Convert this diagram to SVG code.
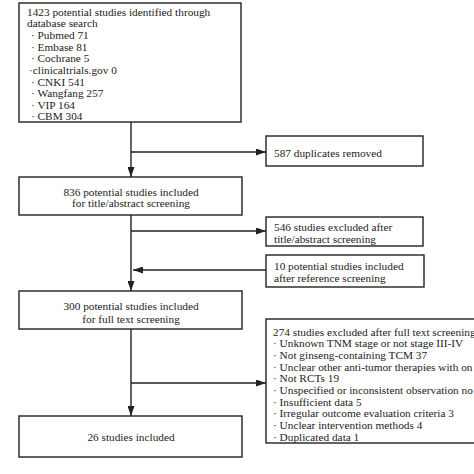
<svg xmlns="http://www.w3.org/2000/svg" width="474" height="474" viewBox="0 0 474 474">
<style>
.box{fill:#fff;stroke:#222;stroke-width:1.4}
.t{font-family:"Liberation Serif","Times New Roman",serif;font-size:11.3px;fill:#222}
.c{text-anchor:middle}
.ln{stroke:#222;stroke-width:1.4;fill:none}
</style>
<defs>
<marker id="ah" markerWidth="10" markerHeight="7" refX="10" refY="3.5" orient="auto" markerUnits="userSpaceOnUse">
<path d="M0,0 L10,3.5 L0,7 Z" fill="#222"/>
</marker>
</defs>
<rect width="474" height="474" fill="#fff"/>
<g id="connectors">
<line class="ln" x1="131" y1="122" x2="131" y2="177" marker-end="url(#ah)"/>
<line class="ln" x1="131" y1="152" x2="266" y2="152" marker-end="url(#ah)"/>
<line class="ln" x1="131" y1="215" x2="131" y2="291" marker-end="url(#ah)"/>
<line class="ln" x1="131" y1="231" x2="266" y2="231" marker-end="url(#ah)"/>
<line class="ln" x1="266" y1="270" x2="133" y2="270" marker-end="url(#ah)"/>
<line class="ln" x1="131" y1="329" x2="131" y2="416" marker-end="url(#ah)"/>
<line class="ln" x1="131" y1="383" x2="266" y2="383" marker-end="url(#ah)"/>
</g>
<g id="identified">
<rect class="box" x="19" y="3" width="222" height="119"/>
<text class="t" x="27" y="15.5">1423 potential studies identified through</text>
<text class="t" x="27" y="27.2">database search</text>
<text class="t" x="31" y="38.8">· Pubmed 71</text>
<text class="t" x="31" y="50.5">· Embase 81</text>
<text class="t" x="31" y="62.2">· Cochrane 5</text>
<text class="t" x="29" y="73.8">·clinicaltrials.gov 0</text>
<text class="t" x="31" y="85.5">· CNKI 541</text>
<text class="t" x="31" y="97.2">· Wangfang 257</text>
<text class="t" x="31" y="108.8">· VIP 164</text>
<text class="t" x="31" y="120.3">· CBM 304</text>
</g>
<g id="duplicates">
<rect class="box" x="266" y="136" width="157" height="30"/>
<text class="t" x="274" y="156.5">587 duplicates removed</text>
</g>
<g id="title-abstract">
<rect class="box" x="19" y="177" width="223" height="38"/>
<text class="t c" x="131" y="195.5">836 potential studies included</text>
<text class="t c" x="131" y="206.8">for title/abstract screening</text>
</g>
<g id="excluded-title">
<rect class="box" x="266" y="217" width="157" height="29"/>
<text class="t" x="274" y="231.3">546 studies excluded after</text>
<text class="t" x="274" y="242.8">title/abstract screening</text>
</g>
<g id="reference">
<rect class="box" x="266" y="255" width="158" height="32"/>
<text class="t" x="274" y="269.5">10 potential studies included</text>
<text class="t" x="274" y="281.5">after reference screening</text>
</g>
<g id="full-text">
<rect class="box" x="19" y="291" width="223" height="38"/>
<text class="t c" x="131" y="309.7">300 potential studies included</text>
<text class="t c" x="131" y="322.7">for full text screening</text>
</g>
<g id="excluded-full">
<rect class="box" x="266" y="319" width="220" height="124"/>
<text class="t" x="273" y="335.5">274 studies excluded after full text screening</text>
<text class="t" x="273" y="347.2">· Unknown TNM stage or not stage III-IV</text>
<text class="t" x="273" y="358.8">· Not ginseng-containing TCM 37</text>
<text class="t" x="273" y="370.5">· Unclear other anti-tumor therapies with on</text>
<text class="t" x="273" y="382.2">· Not RCTs 19</text>
<text class="t" x="273" y="393.8">· Unspecified or inconsistent observation no</text>
<text class="t" x="273" y="405.5">· Insufficient data 5</text>
<text class="t" x="273" y="417.2">· Irregular outcome evaluation criteria 3</text>
<text class="t" x="273" y="428.8">· Unclear intervention methods 4</text>
<text class="t" x="273" y="440.5">· Duplicated data 1</text>
</g>
<g id="included">
<rect class="box" x="19" y="416" width="223" height="41"/>
<text class="t c" x="131" y="441">26 studies included</text>
</g>
</svg>
